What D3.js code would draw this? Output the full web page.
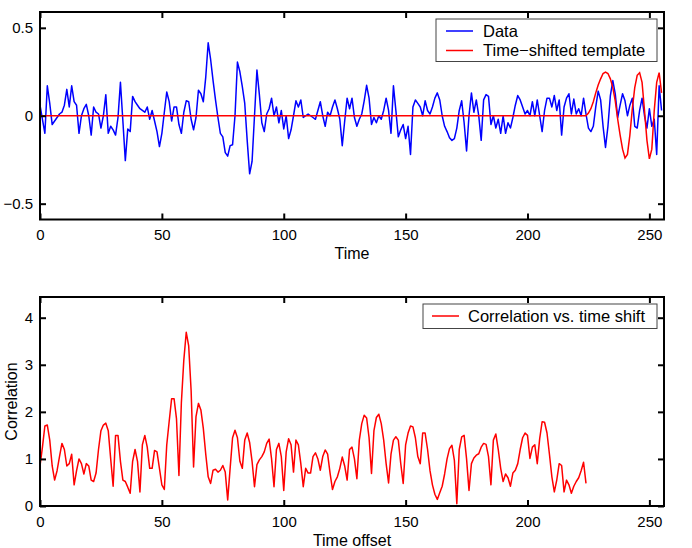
<!DOCTYPE html>
<html>
<head>
<meta charset="utf-8">
<script src="https://cdn.jsdelivr.net/npm/d3@7"></script>
<style>
    body { margin: 0; background: #fff; }
    svg { display: block; font-family: "Liberation Sans", Arial, sans-serif; }
</style>
</head>
<body>
<div id="vis"></div>
<script>
// sampled data, t = 0..255
var dataValues = [
    0.06, -0.02, -0.10, 0.17, 0.07, -0.05, -0.03, -0.01, 0.01, 0.02,
    0.06, 0.15, 0.05, 0.17, 0.08, 0.06, -0.10, 0.00, 0.04, 0.065,
    0.00, -0.11, 0.05, 0.02, 0.01, -0.07, 0.00, 0.12, -0.10, -0.06,
    -0.08, -0.11, -0.01, 0.19, -0.03, -0.255, -0.075, -0.09, 0.11, 0.08,
    0.06, 0.04, 0.03, 0.02, 0.05, -0.02, 0.03, -0.03, -0.09, -0.175,
    -0.10, 0.02, 0.135, 0.08, -0.03, 0.05, 0.05, -0.05, -0.10, 0.02,
    0.085, 0.08, -0.02, -0.08, -0.01, 0.145, 0.125, 0.08, 0.22, 0.415,
    0.32, 0.20, 0.09, -0.01, -0.10, -0.12, -0.21, -0.23, -0.17, -0.165,
    0.00, 0.305, 0.25, 0.165, 0.07, -0.14, -0.33, -0.26, 0.00, 0.26,
    0.12, -0.04, -0.09, 0.01, 0.04, 0.10, 0.00, 0.05, -0.04, 0.03,
    -0.075, 0.00, -0.13, -0.08, 0.00, 0.085, 0.05, 0.09, -0.01, 0.00,
    0.01, 0.00, -0.01, -0.02, 0.03, 0.08, 0.00, -0.06, 0.02, 0.00,
    0.05, 0.09, 0.04, -0.02, -0.17, -0.03, 0.10, 0.04, 0.10, -0.01,
    -0.06, -0.02, 0.01, 0.085, 0.173, 0.10, -0.05, -0.01, -0.04, 0.00,
    -0.02, 0.03, 0.10, 0.03, -0.10, 0.17, 0.03, -0.12, -0.08, -0.05,
    -0.13, -0.06, -0.22, 0.05, 0.09, 0.07, 0.05, 0.00, 0.085, 0.03,
    0.01, 0.05, 0.10, 0.13, 0.09, 0.00, -0.06, -0.09, -0.125, -0.14,
    -0.13, -0.07, 0.03, 0.085, -0.04, -0.20, 0.00, 0.13, 0.02, 0.09,
    0.00, -0.14, 0.09, 0.12, 0.11, -0.05, 0.00, -0.07, -0.02, -0.10,
    0.00, -0.10, -0.04, -0.07, -0.01, 0.06, 0.115, 0.09, 0.05, 0.01,
    0.03, 0.00, 0.08, 0.00, 0.09, 0.00, -0.09, 0.03, 0.10, 0.10,
    0.05, 0.115, 0.03, 0.09, -0.11, 0.05, 0.10, 0.125, 0.01, 0.095,
    0.01, 0.04, 0.00, 0.10, 0.01, -0.07, -0.09, -0.06, 0.05, 0.14,
    0.09, -0.06, -0.18, -0.06, 0.115, 0.20, 0.125, -0.01, 0.06, 0.125,
    0.085, 0.00, 0.06, 0.10, -0.06, -0.07, 0.03, 0.10, 0.00, -0.07,
    0.04, -0.06, -0.02, -0.22, 0.17, 0.03
];

// template is zero before templateStart
var templateStart = 224;
var templateTail = [
    0.00, 0.015, 0.04, 0.08, 0.13, 0.175, 0.21, 0.24, 0.248, 0.24,
    0.21, 0.16, 0.085, -0.02, -0.11, -0.19, -0.24, -0.22, -0.11, 0.04,
    0.16, 0.23, 0.245, 0.19, 0.03, -0.14, -0.245, -0.19, 0.03, 0.19,
    0.245, 0.13
];

// correlation vs. offset, 0..224
var corrValues = [
    0.85, 1.25, 1.70, 1.72, 1.40, 0.85, 0.55, 0.75, 1.05, 1.33,
    1.20, 0.85, 0.90, 1.10, 0.45, 0.75, 1.00, 0.90, 0.68, 0.90,
    0.85, 0.55, 0.52, 0.70, 1.20, 1.60, 1.72, 1.76, 1.60, 1.00,
    0.42, 1.50, 1.50, 0.95, 0.55, 0.52, 0.40, 0.27, 0.95, 1.20,
    0.95, 0.30, 1.30, 1.50, 1.25, 0.80, 0.80, 1.18, 1.15, 0.80,
    0.45, 0.35, 1.30, 1.80, 2.28, 2.28, 1.85, 0.65, 2.20, 3.10,
    3.69, 3.40, 2.45, 0.83, 1.90, 2.18, 2.04, 1.65, 1.10, 0.62,
    0.48, 0.76, 0.78, 0.72, 0.76, 0.86, 0.72, 0.13, 0.80, 1.45,
    1.61, 1.45, 0.95, 0.80, 1.40, 1.55, 1.35, 0.95, 0.41, 0.88,
    0.98, 1.05, 1.15, 1.33, 1.42, 1.00, 0.41, 1.20, 1.33, 1.05,
    0.33, 1.15, 1.43, 1.30, 0.72, 1.40, 1.30, 0.90, 0.41, 0.80,
    0.70, 0.70, 1.05, 1.13, 1.00, 0.76, 1.05, 1.19, 1.10, 0.70,
    0.35, 0.52, 0.62, 0.80, 1.04, 0.85, 0.55, 1.20, 1.25, 1.00,
    0.58, 1.40, 1.75, 1.93, 1.87, 1.45, 0.69, 1.60, 1.88, 1.95,
    1.75, 1.40, 0.90, 0.49, 1.10, 1.40, 1.47, 1.40, 0.90, 0.48,
    1.30, 1.55, 1.70, 1.68, 1.45, 1.05, 0.90, 1.55, 1.55, 1.20,
    0.75, 0.45, 0.25, 0.14, 0.28, 0.42, 0.68, 1.00, 1.22, 1.29,
    0.97, 0.05, 1.20, 1.47, 1.50, 1.00, 0.33, 0.90, 1.02, 1.08,
    1.11, 1.25, 1.33, 1.31, 1.05, 0.45, 1.40, 1.53, 1.20, 0.80,
    0.52, 0.68, 0.60, 0.42, 0.70, 0.76, 0.90, 1.20, 1.45, 1.55,
    1.50, 1.01, 1.25, 1.30, 0.90, 1.43, 1.79, 1.78, 1.55, 1.10,
    0.62, 0.30, 0.55, 0.90, 0.86, 0.30, 0.55, 0.45, 0.27, 0.42,
    0.52, 0.60, 0.75, 0.93, 0.48
];

var xTicks = [0, 50, 100, 150, 200, 250];
var topYTicks = [-0.5, 0, 0.5];
var botYTicks = [0, 1, 2, 3, 4];
var topLegend = ['Data', 'Time\u2212shifted template'];
var botLegend = ['Correlation vs. time shift'];

var width = 692, height = 548;
var tickFont = 15;
var lineWidth = 1.5;

var svg = d3.select('#vis')
    .append('svg')
        .attr('width', width)
        .attr('height', height);

function drawFrame(box, x, y, yTicks, yFormat)
{
    var g = svg.append('g');
    var w = box.right - box.left;
    var h = box.bottom - box.top;

    g.append('g')
        .attr('transform', 'translate(0,' + box.bottom + ')')
        .call(d3.axisBottom(x).tickValues(xTicks).tickSizeInner(-6).tickSizeOuter(0).tickPadding(10));
    g.append('g')
        .attr('transform', 'translate(0,' + box.top + ')')
        .call(d3.axisTop(x).tickValues(xTicks).tickSizeInner(-6).tickSizeOuter(0).tickFormat(''));
    g.append('g')
        .attr('transform', 'translate(' + box.left + ',0)')
        .call(d3.axisLeft(y).tickValues(yTicks).tickSizeInner(-6).tickSizeOuter(0).tickPadding(7).tickFormat(yFormat));
    g.append('g')
        .attr('transform', 'translate(' + box.right + ',0)')
        .call(d3.axisRight(y).tickValues(yTicks).tickSizeInner(-6).tickSizeOuter(0).tickFormat(''));

    g.selectAll('.domain').remove();
    g.selectAll('.tick line').attr('stroke', '#000').attr('stroke-width', 2);
    g.selectAll('.tick text')
        .attr('fill', '#000')
        .style('font-size', tickFont + 'px')
        .style('font-family', '"Liberation Sans", Arial, sans-serif');

    g.append('rect')
        .attr('x', box.left)
        .attr('y', box.top)
        .attr('width', w)
        .attr('height', h)
        .attr('fill', 'none')
        .attr('stroke', '#000')
        .attr('stroke-width', 2);
    return g;
}

function drawLegend(box, entries, colors, lineX, textX, rowY)
{
    var g = svg.append('g');
    g.append('rect')
        .attr('x', box.left)
        .attr('y', box.top)
        .attr('width', box.right - box.left)
        .attr('height', box.bottom - box.top)
        .attr('fill', '#fff')
        .attr('stroke', '#444')
        .attr('stroke-width', 1);
    entries.forEach(function(label, i)
    {
        g.append('line')
            .attr('x1', lineX[0]).attr('x2', lineX[1])
            .attr('y1', rowY[i]).attr('y2', rowY[i])
            .attr('stroke', colors[i])
            .attr('stroke-width', lineWidth);
        g.append('text')
            .attr('x', textX)
            .attr('y', rowY[i])
            .attr('dy', '0.36em')
            .style('font-size', '16.5px')
            .text(label);
    });
}

// Top panel
var topBox = { left: 40, right: 664, top: 12, bottom: 219.5 };
var xTop = d3.scaleLinear().domain([0, 256]).range([topBox.left, topBox.right]);
var yTop = d3.scaleLinear().domain([-0.59, 0.59]).range([topBox.bottom, topBox.top]);

var templateValues = d3.range(dataValues.length).map(function(t)
{
    return t < templateStart ? 0 : templateTail[t - templateStart];
});

var lineTop = d3.line()
    .x(function(d, i) { return xTop(i); })
    .y(function(d) { return yTop(d); });

svg.append('path')
    .datum(dataValues)
    .attr('fill', 'none')
    .attr('stroke', '#0000ff')
    .attr('stroke-width', lineWidth)
    .attr('stroke-linejoin', 'round')
    .attr('d', lineTop);

svg.append('path')
    .datum(templateValues)
    .attr('fill', 'none')
    .attr('stroke', '#ff0000')
    .attr('stroke-width', lineWidth)
    .attr('d', lineTop);

drawFrame(topBox, xTop, yTop, topYTicks, function(d) { return d === 0 ? '0' : d3.format('.1f')(d); });

svg.append('text')
    .attr('x', (topBox.left + topBox.right) / 2)
    .attr('y', 259)
    .attr('text-anchor', 'middle')
    .style('font-size', '16px')
    .text('Time');

drawLegend({ left: 436, right: 657, top: 19, bottom: 61.5 }, topLegend, ['#0000ff', '#ff0000'],
    [446, 473], 483, [31, 50.5]);

// Bottom panel
var botBox = { left: 40, right: 664, top: 297, bottom: 506 };
var xBot = d3.scaleLinear().domain([0, 256]).range([botBox.left, botBox.right]);
var yBot = d3.scaleLinear().domain([0, 4.44]).range([botBox.bottom, botBox.top]);

svg.append('path')
    .datum(corrValues)
    .attr('fill', 'none')
    .attr('stroke', '#ff0000')
    .attr('stroke-width', lineWidth)
    .attr('stroke-linejoin', 'round')
    .attr('d', d3.line()
        .x(function(d, i) { return xBot(i); })
        .y(function(d) { return yBot(d); }));

drawFrame(botBox, xBot, yBot, botYTicks, d3.format('d'));

svg.append('text')
    .attr('x', (botBox.left + botBox.right) / 2)
    .attr('y', 546)
    .attr('text-anchor', 'middle')
    .style('font-size', '16px')
    .text('Time offset');

svg.append('text')
    .attr('transform', 'translate(17,' + (botBox.top + botBox.bottom) / 2 + ') rotate(-90)')
    .attr('text-anchor', 'middle')
    .style('font-size', '16px')
    .text('Correlation');

drawLegend({ left: 423, right: 657, top: 304, bottom: 328.5 }, botLegend, ['#ff0000'],
    [432, 459], 468, [316]);
</script>
</body>
</html>
